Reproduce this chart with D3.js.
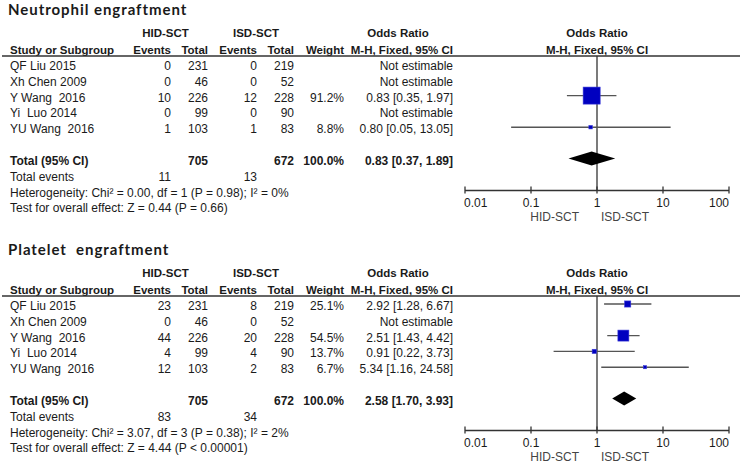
<!DOCTYPE html>
<html>
<head>
<meta charset="utf-8">
<script src="https://cdn.jsdelivr.net/npm/d3@7"></script>
<style>
  html, body { margin: 0; padding: 0; background: #fff; }
  svg text { white-space: pre; }
</style>
</head>
<body>
<svg id="chart" width="740" height="463"></svg>
<script>
// ---------- DATA ----------
const studies = ["QF Liu 2015", "Xh Chen 2009", "Y Wang  2016", "Yi  Luo 2014", "YU Wang  2016"];
const hidTotal = [231, 46, 226, 99, 103];
const isdTotal = [219, 52, 228, 90, 83];

const panelTitles = ["Neutrophil engraftment", "Platelet  engraftment"];

// Neutrophil engraftment
const neutHidEvents = [0, 0, 10, 0, 1];
const neutIsdEvents = [0, 0, 12, 0, 1];
const neutWeight = [null, null, 91.2, null, 8.8];
const neutOR = [null, null, 0.83, null, 0.80];
const neutLo = [null, null, 0.35, null, 0.05];
const neutHi = [null, null, 1.97, null, 13.05];
const neutTotal = { or: 0.83, lo: 0.37, hi: 1.89, hidEv: 11, isdEv: 13 };
const neutHet = "Heterogeneity: Chi\u00B2 = 0.00, df = 1 (P = 0.98); I\u00B2 = 0%";
const neutTest = "Test for overall effect: Z = 0.44 (P = 0.66)";

// Platelet engraftment
const platHidEvents = [23, 0, 44, 4, 12];
const platIsdEvents = [8, 0, 20, 4, 2];
const platWeight = [25.1, null, 54.5, 13.7, 6.7];
const platOR = [2.92, null, 2.51, 0.91, 5.34];
const platLo = [1.28, null, 1.43, 0.22, 1.16];
const platHi = [6.67, null, 4.42, 3.73, 24.58];
const platTotal = { or: 2.58, lo: 1.70, hi: 3.93, hidEv: 83, isdEv: 34 };
const platHet = "Heterogeneity: Chi\u00B2 = 3.07, df = 3 (P = 0.38); I\u00B2 = 2%";
const platTest = "Test for overall effect: Z = 4.44 (P < 0.00001)";

const axisTicks = [0.01, 0.1, 1, 10, 100];
const axisTickLabels = ["0.01", "0.1", "1", "10", "100"];
const favourLabels = ["HID-SCT", "ISD-SCT"];

// ---------- DRAW ----------
const svg = d3.select("#chart");
svg.append("rect").attr("width", 740).attr("height", 463).attr("fill", "#fff");

const FONT = "'Liberation Sans', Arial, sans-serif";
const TXT = "#1a1a1a";

const x = d3.scaleLog().domain([0.01, 100]).range([465, 729]);
const boxSize = d3.scaleLinear().domain([0, 100]).range([2, 18.5]);
const fmt2 = d3.format(".2f");
const ciText = (o, l, h) => `${fmt2(o)} [${fmt2(l)}, ${fmt2(h)}]`;

const panels = [
  { title: panelTitles[0], hidEv: neutHidEvents, isdEv: neutIsdEvents, w: neutWeight, or: neutOR, lo: neutLo, hi: neutHi, tot: neutTotal, het: neutHet, test: neutTest },
  { title: panelTitles[1], hidEv: platHidEvents, isdEv: platIsdEvents, w: platWeight, or: platOR, lo: platLo, hi: platHi, tot: platTotal, het: platHet, test: platTest }
];

const col = { study: 10, hidEv: 171, hidTot: 208, isdEv: 257, isdTot: 294, weight: 344, ci: 453 };

panels.forEach((p, pi) => {
  const g = svg.append("g").attr("transform", `translate(0,${pi * 240})`);
  const t = (xx, yy, str, opts = {}) => g.append("text")
    .attr("x", xx).attr("y", yy)
    .attr("text-anchor", opts.anchor || "start")
    .attr("font-family", opts.family || FONT)
    .attr("font-size", opts.size || 12)
    .attr("font-weight", opts.bold ? "bold" : "normal")
    .attr("letter-spacing", opts.ls || 0)
    .attr("fill", TXT)
    .text(str);

  // Title
  t(8, 15, p.title, { family: "Lato, 'Open Sans', sans-serif", size: 15, bold: true, ls: 0.95 });

  // Header
  t(165.5, 37, "HID-SCT", { anchor: "middle", bold: true, size: 11.5 });
  t(256, 37, "ISD-SCT", { anchor: "middle", bold: true, size: 11.5 });
  t(398, 37, "Odds Ratio", { anchor: "middle", bold: true, size: 11.5 });
  t(x(1), 37, "Odds Ratio", { anchor: "middle", bold: true, size: 11.5 });
  t(col.study, 54, "Study or Subgroup", { bold: true, size: 11.5 });
  t(col.hidEv, 54, "Events", { anchor: "end", bold: true, size: 11.5 });
  t(col.hidTot, 54, "Total", { anchor: "end", bold: true, size: 11.5 });
  t(col.isdEv, 54, "Events", { anchor: "end", bold: true, size: 11.5 });
  t(col.isdTot, 54, "Total", { anchor: "end", bold: true, size: 11.5 });
  t(col.weight, 54, "Weight", { anchor: "end", bold: true, size: 11.5 });
  t(col.ci, 54, "M-H, Fixed, 95% CI", { anchor: "end", bold: true, size: 11.5 });
  t(x(1), 54, "M-H, Fixed, 95% CI", { anchor: "middle", bold: true, size: 11.5 });

  g.append("line").attr("x1", 2).attr("x2", 740).attr("y1", 56).attr("y2", 56)
    .attr("stroke", "#333").attr("stroke-width", 1.3);

  const rowY = i => 70 + i * 15.8;

  // Vertical line of no effect
  g.append("line").attr("x1", x(1)).attr("x2", x(1)).attr("y1", 56).attr("y2", 190)
    .attr("stroke", "#333").attr("stroke-width", 1.3);

  studies.forEach((s, i) => {
    const y = rowY(i);
    t(col.study, y, s);
    t(col.hidEv, y, p.hidEv[i], { anchor: "end" });
    t(col.hidTot, y, hidTotal[i], { anchor: "end" });
    t(col.isdEv, y, p.isdEv[i], { anchor: "end" });
    t(col.isdTot, y, isdTotal[i], { anchor: "end" });
    if (p.w[i] != null) {
      t(col.weight, y, p.w[i].toFixed(1) + "%", { anchor: "end" });
      t(col.ci, y, ciText(p.or[i], p.lo[i], p.hi[i]), { anchor: "end" });
      const cy = y - 6;
      g.append("line").attr("x1", x(p.lo[i])).attr("x2", x(p.hi[i]))
        .attr("y1", cy).attr("y2", cy).attr("stroke", "#555").attr("stroke-width", 1.4);
      const s2 = boxSize(p.w[i]);
      g.append("rect").attr("x", x(p.or[i]) - s2 / 2).attr("y", cy - s2 / 2)
        .attr("width", s2).attr("height", s2)
        .attr("fill", "#0000c0").attr("stroke", "#3a3ad8").attr("stroke-width", 0.6);
    } else {
      t(col.ci, y, "Not estimable", { anchor: "end" });
    }
  });

  // Total row
  const ty = 165;
  t(col.study, ty, "Total (95% CI)", { bold: true });
  t(col.hidTot, ty, d3.sum(hidTotal), { anchor: "end", bold: true });
  t(col.isdTot, ty, d3.sum(isdTotal), { anchor: "end", bold: true });
  t(col.weight, ty, "100.0%", { anchor: "end", bold: true });
  t(col.ci, ty, ciText(p.tot.or, p.tot.lo, p.tot.hi), { anchor: "end", bold: true });
  const dy = ty - 6.5, dh = 7;
  g.append("path")
    .attr("d", `M${x(p.tot.lo)},${dy} L${x(p.tot.or)},${dy - dh} L${x(p.tot.hi)},${dy} L${x(p.tot.or)},${dy + dh} Z`)
    .attr("fill", "#000");

  t(col.study, 181, "Total events");
  t(col.hidEv, 181, p.tot.hidEv, { anchor: "end" });
  t(col.isdEv, 181, p.tot.isdEv, { anchor: "end" });
  t(col.study, 197, p.het);
  t(col.study, 212, p.test);

  // Axis
  const ax = g.append("g").attr("transform", "translate(0,190.5)");
  ax.append("line").attr("x1", x(0.01)).attr("x2", x(100)).attr("y1", 0).attr("y2", 0)
    .attr("stroke", "#333").attr("stroke-width", 1.3);
  axisTicks.forEach((v, k) => {
    ax.append("line").attr("x1", x(v)).attr("x2", x(v)).attr("y1", -4).attr("y2", 3)
      .attr("stroke", "#333").attr("stroke-width", 1.3);
    const anchor = k === 0 ? "start" : (k === axisTicks.length - 1 ? "end" : "middle");
    ax.append("text").attr("x", x(v) + (k === 0 ? -1 : 0)).attr("y", 16.5)
      .attr("text-anchor", anchor).attr("font-family", FONT).attr("font-size", 12)
      .attr("fill", TXT).text(axisTickLabels[k]);
  });
  ax.append("text").attr("x", x(1) - 18).attr("y", 30).attr("text-anchor", "end")
    .attr("font-family", FONT).attr("font-size", 12).attr("fill", "#444").text(favourLabels[0]);
  ax.append("text").attr("x", x(1) + 4).attr("y", 30).attr("text-anchor", "start")
    .attr("font-family", FONT).attr("font-size", 12).attr("fill", "#444").text(favourLabels[1]);
});
</script>
</body>
</html>
